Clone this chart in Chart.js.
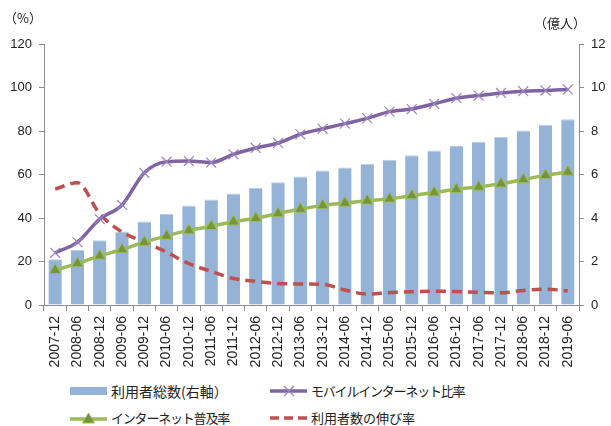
<!DOCTYPE html>
<html>
<head>
<meta charset="utf-8">
<script src="https://cdn.jsdelivr.net/npm/chart.js@4/dist/chart.umd.min.js"></script>
<style>
  body { margin: 0; background: #fff; }
  #wrap { position: relative; width: 611px; height: 426px; font-family: "Noto Sans CJK JP", sans-serif; color: #222; }
  #chart { position: absolute; left: 0; top: 0; }
  .unit { position: absolute; font-size: 13px; line-height: 16px; }
  .leg { position: absolute; font-size: 13px; line-height: 18px; display: flex; align-items: center; white-space: nowrap; }
  .leg svg { margin-right: 4px; }
  .kana { letter-spacing: -1.2px; }
</style>
</head>
<body>
<div id="wrap">
  <canvas id="chart" width="611" height="380"></canvas>
  <div class="unit" style="left:4px; top:10px;">（%）</div>
  <div class="unit" style="left:534px; top:15px;">（億人）</div>
  <div class="leg" style="left:70px; top:382px; font-size:14px;">
    <svg width="37" height="10"><rect x="0" y="1" width="37" height="8" fill="#95B3D7"/></svg>利用者総数(右軸）
  </div>
  <div class="leg" style="left:270px; top:382px;">
    <svg width="37" height="14"><line x1="0" y1="7" x2="37" y2="7" stroke="#8064A2" stroke-width="3.5"/><path d="M14 2 L24 12 M24 2 L14 12" stroke="#9B85C0" stroke-width="1.2"/></svg><span class="kana">モバイルインターネット比率</span>
  </div>
  <div class="leg" style="left:70px; top:409px;">
    <svg width="37" height="14"><line x1="0" y1="8" x2="37" y2="8" stroke="#9BBB59" stroke-width="3.5"/><path d="M18.5 2 L24.5 12 L12.5 12 Z" fill="#77933C" stroke="#9BBB59" stroke-width="1"/></svg><span class="kana">インターネット普及率</span>
  </div>
  <div class="leg" style="left:270px; top:409px;">
    <svg width="37" height="10"><line x1="0" y1="5" x2="37" y2="5" stroke="#C0504D" stroke-width="3.5" stroke-dasharray="9,5"/></svg>利用者数の伸び率
  </div>
</div>
<script>
const categories = ['2007-12', '2008-06', '2008-12', '2009-06', '2009-12', '2010-06', '2010-12', '2011-06',
  '2011-12', '2012-06', '2012-12', '2013-06', '2013-12', '2014-06', '2014-12', '2015-06',
  '2015-12', '2016-06', '2016-12', '2017-06', '2017-12', '2018-06', '2018-12', '2019-06']

// 利用者総数 (億人, right axis)
const totalUsers = [2.10, 2.53, 2.98, 3.38, 3.84, 4.20, 4.57, 4.85, 5.13, 5.38, 5.64, 5.91,
  6.18, 6.32, 6.49, 6.68, 6.88, 7.10, 7.31, 7.51, 7.72, 8.02, 8.29, 8.54]

// モバイルインターネット比率 (%)
const mobileRatio = [24.0, 28.9, 39.5, 46.0, 60.8, 65.9, 66.2, 65.5, 69.3, 72.2, 74.5, 78.5,
  81.0, 83.4, 85.8, 88.9, 90.1, 92.5, 95.1, 96.3, 97.5, 98.3, 98.6, 99.1]

// インターネット普及率 (%)
const penetration = [16.0, 19.1, 22.6, 25.5, 28.9, 31.8, 34.3, 36.2, 38.3, 39.9, 42.1, 44.1,
  45.8, 46.9, 47.9, 48.8, 50.3, 51.7, 53.2, 54.3, 55.8, 57.7, 59.6, 61.2]

// 利用者数の伸び率 (%)
const growthRate = [53.3, 56.2, 41.9, 33.6, 28.9, 24.3, 19.0, 15.5, 12.2, 10.9, 9.9, 9.7,
  9.5, 6.9, 5.0, 5.7, 6.1, 6.3, 6.2, 5.8, 5.6, 6.7, 7.3, 6.5]

const leftTicks = [0, 20, 40, 60, 80, 100, 120]
const rightTicks = [0, 2, 4, 6, 8, 10, 12]

const axisColor = '#8c8c8c'
const tickFont = { family: 'Liberation Sans, Arial, sans-serif', size: 13 }

const ctx = document.getElementById('chart')
const myChart = new Chart(ctx, {
  type: 'bar',
  data: {
    labels: categories,
    datasets: [
      {
        type: 'line',
        label: 'モバイルインターネット比率',
        data: mobileRatio,
        yAxisID: 'y',
        borderColor: '#8064A2',
        borderWidth: 3.5,
        pointStyle: 'crossRot',
        pointRadius: 7,
        pointBorderColor: '#9B85C0',
        pointBorderWidth: 1.2,
        cubicInterpolationMode: 'monotone',
        order: 2
      },
      {
        type: 'line',
        label: 'インターネット普及率',
        data: penetration,
        yAxisID: 'y',
        borderColor: '#9BBB59',
        borderWidth: 3.5,
        pointStyle: 'triangle',
        pointRadius: 6.5,
        pointBackgroundColor: '#77933C',
        pointBorderColor: '#9BBB59',
        pointBorderWidth: 1,
        cubicInterpolationMode: 'monotone',
        order: 1
      },
      {
        type: 'line',
        label: '利用者数の伸び率',
        data: growthRate,
        yAxisID: 'y',
        borderColor: '#C0504D',
        borderWidth: 3.5,
        borderDash: [10, 6],
        pointRadius: 0,
        cubicInterpolationMode: 'monotone',
        order: 3
      },
      {
        type: 'bar',
        label: '利用者総数(右軸）',
        data: totalUsers,
        yAxisID: 'y1',
        backgroundColor: '#95B3D7',
        borderColor: '#B9CDE5',
        borderWidth: { top: 1, left: 0, right: 0, bottom: 0 },
        barPercentage: 0.6,
        categoryPercentage: 1,
        order: 10
      }
    ]
  },
  options: {
    responsive: false,
    animation: false,
    layout: { padding: { top: 44, left: 0, right: 0, bottom: 0 } },
    plugins: {
      legend: { display: false },
      tooltip: { enabled: false }
    },
    scales: {
      x: {
        grid: { display: true, drawOnChartArea: false, drawTicks: true, tickLength: 6, color: axisColor, offset: true },
        border: { color: axisColor },
        ticks: { color: '#222', font: { family: 'Liberation Sans, Arial, sans-serif', size: 14 }, minRotation: 90, maxRotation: 90, autoSkip: false, padding: 5 },
        afterFit: (scale) => { scale.height = 75 }
      },
      y: {
        position: 'left',
        min: 0,
        max: 120,
        afterBuildTicks: (scale) => { scale.ticks = leftTicks.map(v => ({ value: v })) },
        grid: { drawOnChartArea: false, tickLength: 5, color: axisColor },
        border: { color: axisColor },
        ticks: { color: '#222', font: tickFont, padding: 7 },
        afterFit: (scale) => { scale.width = 44 }
      },
      y1: {
        position: 'right',
        min: 0,
        max: 12,
        afterBuildTicks: (scale) => { scale.ticks = rightTicks.map(v => ({ value: v })) },
        grid: { drawOnChartArea: false, tickLength: 5, color: axisColor },
        border: { color: axisColor },
        ticks: { color: '#222', font: tickFont, padding: 7 },
        afterFit: (scale) => { scale.width = 32 }
      }
    }
  }
})
</script>
</body>
</html>
